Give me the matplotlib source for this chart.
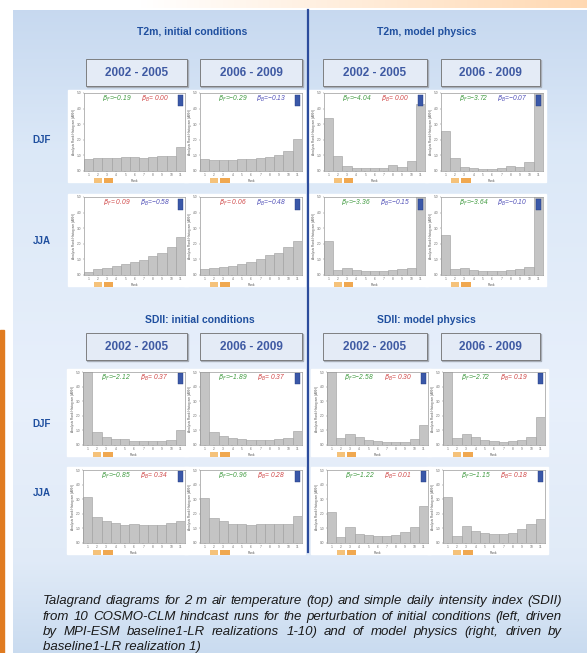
import numpy as np
import matplotlib
matplotlib.use('Agg')
import matplotlib.pyplot as plt
from matplotlib.patches import Rectangle
from matplotlib.lines import Line2D

plt.rcParams['font.family'] = ['Liberation Sans', 'DejaVu Sans']

W, H = 587, 653

ranks = list(range(1, 12))

# T2m, initial conditions
t2m_ic_djf_0205 = [0.075, 0.084, 0.084, 0.084, 0.088, 0.088, 0.086, 0.088, 0.093, 0.097, 0.157]
t2m_ic_djf_0609 = [0.075, 0.069, 0.069, 0.073, 0.078, 0.080, 0.082, 0.088, 0.101, 0.127, 0.207]
t2m_ic_jja_0205 = [0.021, 0.037, 0.047, 0.058, 0.071, 0.084, 0.099, 0.123, 0.144, 0.177, 0.246]
t2m_ic_jja_0609 = [0.039, 0.045, 0.052, 0.060, 0.071, 0.084, 0.103, 0.127, 0.144, 0.177, 0.220]
# T2m, model physics
t2m_mp_djf_0205 = [0.338, 0.097, 0.030, 0.022, 0.017, 0.017, 0.017, 0.037, 0.024, 0.062, 0.429]
t2m_mp_djf_0609 = [0.256, 0.086, 0.026, 0.017, 0.015, 0.015, 0.017, 0.034, 0.028, 0.056, 0.520]
t2m_mp_jja_0205 = [0.220, 0.032, 0.045, 0.030, 0.024, 0.024, 0.024, 0.030, 0.037, 0.047, 0.520]
t2m_mp_jja_0609 = [0.259, 0.039, 0.045, 0.032, 0.026, 0.026, 0.026, 0.034, 0.039, 0.054, 0.550]
# SDII, initial conditions
sdii_ic_djf_0205 = [0.550, 0.091, 0.057, 0.041, 0.039, 0.030, 0.027, 0.027, 0.030, 0.032, 0.102]
sdii_ic_djf_0609 = [0.550, 0.089, 0.064, 0.050, 0.043, 0.034, 0.034, 0.032, 0.039, 0.048, 0.098]
sdii_ic_jja_0205 = [0.312, 0.178, 0.148, 0.137, 0.126, 0.130, 0.121, 0.126, 0.126, 0.135, 0.153]
sdii_ic_jja_0609 = [0.306, 0.169, 0.148, 0.133, 0.128, 0.121, 0.133, 0.128, 0.128, 0.133, 0.182]
# SDII, model physics
sdii_mp_djf_0205 = [0.550, 0.045, 0.073, 0.055, 0.034, 0.027, 0.020, 0.020, 0.020, 0.039, 0.134]
sdii_mp_djf_0609 = [0.550, 0.045, 0.075, 0.052, 0.034, 0.030, 0.023, 0.027, 0.032, 0.057, 0.189]
sdii_mp_jja_0205 = [0.211, 0.038, 0.108, 0.063, 0.054, 0.047, 0.047, 0.054, 0.076, 0.108, 0.252]
sdii_mp_jja_0609 = [0.317, 0.047, 0.117, 0.085, 0.070, 0.063, 0.063, 0.070, 0.094, 0.133, 0.166]

# beta values (beta_F, beta_B) per panel, row by row
beta_f = [-0.19, -0.29, -4.04, -3.72,
          0.09, 0.06, -3.36, -3.64,
          -2.12, -1.89, -2.58, -2.72,
          -0.85, -0.96, -1.22, -1.15]
beta_b = [0.00, -0.13, 0.00, -0.07,
          -0.58, -0.48, -0.15, -0.10,
          0.37, 0.37, 0.30, 0.19,
          0.34, 0.28, 0.01, 0.18]

panels = [t2m_ic_djf_0205, t2m_ic_djf_0609, t2m_mp_djf_0205, t2m_mp_djf_0609,
          t2m_ic_jja_0205, t2m_ic_jja_0609, t2m_mp_jja_0205, t2m_mp_jja_0609,
          sdii_ic_djf_0205, sdii_ic_djf_0609, sdii_mp_djf_0205, sdii_mp_djf_0609,
          sdii_ic_jja_0205, sdii_ic_jja_0609, sdii_mp_jja_0205, sdii_mp_jja_0609]

headers = ['T2m, initial conditions', 'T2m, model physics',
           'SDII: initial conditions', 'SDII: model physics']
periods = ['2002 - 2005', '2006 - 2009']
seasons = ['DJF', 'JJA']

caption = ["Talagrand diagrams for 2 m air temperature (top) and simple daily intensity index (SDII)",
           "from 10 COSMO-CLM hindcast runs for the perturbation of initial conditions (left, driven",
           "by MPI-ESM baseline1-LR realizations 1-10) and of model physics (right, driven by",
           "baseline1-LR realization 1)"]

title_blue = '#1f4f9f'


def rect(x0, y0, x1, y1):
    return [x0 / W, 1 - y1 / H, (x1 - x0) / W, (y1 - y0) / H]


fig = plt.figure(figsize=(W / 100, H / 100), dpi=100)
bg = fig.add_axes([0, 0, 1, 1])
bg.set_xlim(0, W)
bg.set_ylim(H, 0)
bg.axis('off')

# blue gradient background
stops_y = [10, 150, 400, 560, 653]
stops_c = np.array([[0.78, 0.85, 0.94], [0.86, 0.91, 0.97], [0.91, 0.94, 0.985],
                    [0.88, 0.92, 0.97], [0.79, 0.86, 0.94]])
yy = np.arange(10, 653)
grad = np.stack([np.interp(yy, stops_y, stops_c[:, k]) for k in range(3)], axis=1)
bg.imshow(grad[:, None, :], extent=[13, W, H, 10], aspect='auto', zorder=0)
bg.set_xlim(0, W)
bg.set_ylim(H, 0)

# peach strip on top, orange strip on the left
top = np.linspace(0, 1, 200)
peach = np.stack([np.ones_like(top), 1 - 0.15 * top, 1 - 0.3 * top], axis=1)
bg.imshow(peach[None, :, :], extent=[140, W, 8, 0], aspect='auto', zorder=0)
bg.add_patch(Rectangle((0, 330), 4, 323, color='#e07b20', zorder=1))

# headers
hx = [192, 427, 200, 426]
hy = [32, 32, 320, 320]
for t, x, y in zip(headers, hx, hy):
    bg.text(x, y, t, ha='center', va='center', fontsize=7.5, fontweight='bold', color=title_blue)

# period boxes
box_x = [(86, 187), (200, 302), (323, 427), (441, 540)]
for by0, by1 in [(59, 86), (333, 360)]:
    for i, (bx0, bx1) in enumerate(box_x):
        bg.add_patch(Rectangle((bx0 + 1, by0 + 1), bx1 - bx0, by1 - by0, color='#a8aeb8', zorder=2))
        bg.add_patch(Rectangle((bx0, by0), bx1 - bx0, by1 - by0, facecolor='#e4ebf6',
                               edgecolor='#6f6f6f', lw=0.6, zorder=3))
        bg.text((bx0 + bx1) / 2, (by0 + by1) / 2, periods[i % 2], ha='center', va='center',
                fontsize=8.5, fontweight='bold', color='#3f5aa3', zorder=4)

# season labels
for y, s in zip([140, 241, 424, 493], seasons * 2):
    bg.text(42, y, s, ha='center', va='center', fontsize=7, fontweight='bold', color=title_blue)

# panels
ax_x = [(84, 185), (200, 302), (324, 425), (441, 543)]
ax_x_sdii = [(83, 185), (200, 302), (327, 428), (443, 545)]
ax_y = [(93, 171), (197, 275), (372, 445), (470, 543)]

green, red, blue = '#3f9a3f', '#d04848', '#5050b8'

for k, vals in enumerate(panels):
    r, c = divmod(k, 4)
    x0, x1 = (ax_x if r < 2 else ax_x_sdii)[c]
    y0, y1 = ax_y[r]
    bg.add_patch(Rectangle((x0 - 16, y0 - 3), x1 - x0 + 19, y1 - y0 + 14, color='white', zorder=5))
    ax = fig.add_axes(rect(x0, y0, x1, y1))
    ax.bar(ranks, vals, width=1.0, color='#c4c4c4', edgecolor='#9c9c9c', lw=0.4)
    ax.set_xlim(0.5, 11.5)
    ax.set_ylim(0, 0.5)
    ax.set_xticks(ranks)
    ax.set_xticklabels([str(v) for v in ranks])
    ax.set_yticks([0, 0.1, 0.2, 0.3, 0.4, 0.5])
    ax.set_yticklabels(['0.0', '1.0', '2.0', '3.0', '4.0', '5.0'])
    ax.tick_params(labelsize=2.3, length=1, width=0.3, pad=0.8, colors='#666666')
    for sp in ax.spines.values():
        sp.set_color('#9a9a9a')
        sp.set_linewidth(0.5)
    ax.set_ylabel('Analysis Rank Histogram (ARH)', fontsize=2.3, labelpad=1, color='#555555')
    ax.set_xlabel('Rank', fontsize=2.3, labelpad=0.8, color='#555555')
    bf, bb = beta_f[k], beta_b[k]
    cf = green if bf < 0 else red
    cb = blue if bb < 0 else red
    ax.text(0.32, 0.92, r'$\beta_F$=' + f'{bf:5.2f}'.replace('-', '\u2212'), transform=ax.transAxes,
            ha='center', va='center', fontsize=4.8, style='italic', color=cf)
    ax.text(0.70, 0.92, r'$\beta_B$=' + f'{bb:5.2f}'.replace('-', '\u2212'), transform=ax.transAxes,
            ha='center', va='center', fontsize=4.8, style='italic', color=cb)
    ax.add_patch(Rectangle((0.935, 0.83), 0.05, 0.15, transform=ax.transAxes,
                           facecolor='#3a58a8', edgecolor='#223a80', lw=0.3))
    ax.add_patch(Rectangle((0.10, -0.16), 0.08, 0.07, transform=ax.transAxes,
                           facecolor='#f5c27a', edgecolor='none', clip_on=False))
    ax.add_patch(Rectangle((0.20, -0.16), 0.09, 0.07, transform=ax.transAxes,
                           facecolor='#f0a850', edgecolor='none', clip_on=False))

# vertical divider
fig.add_artist(Line2D([308 / W, 308 / W], [1 - 10 / H, 1 - 552 / H], transform=fig.transFigure,
                      color='#2c4c9c', lw=1.6, zorder=10))

# justified caption
renderer = fig.canvas.get_renderer()
left, right = 43, 562
cap_y = [601, 617, 632, 647]
for li, (line, y) in enumerate(zip(caption, cap_y)):
    if li == len(caption) - 1:
        bg.text(left, y, line, ha='left', va='center', fontsize=9.5, style='italic', color='#1a1a1a')
        continue
    words = line.split()
    objs = [bg.text(0, y, w, ha='left', va='center', fontsize=9.5, style='italic', color='#1a1a1a')
            for w in words]
    widths = [o.get_window_extent(renderer).width for o in objs]
    gap = (right - left - sum(widths)) / (len(words) - 1)
    x = left
    for o, w in zip(objs, widths):
        o.set_x(x)
        x += w + gap

fig.savefig('out.png', dpi=100)
